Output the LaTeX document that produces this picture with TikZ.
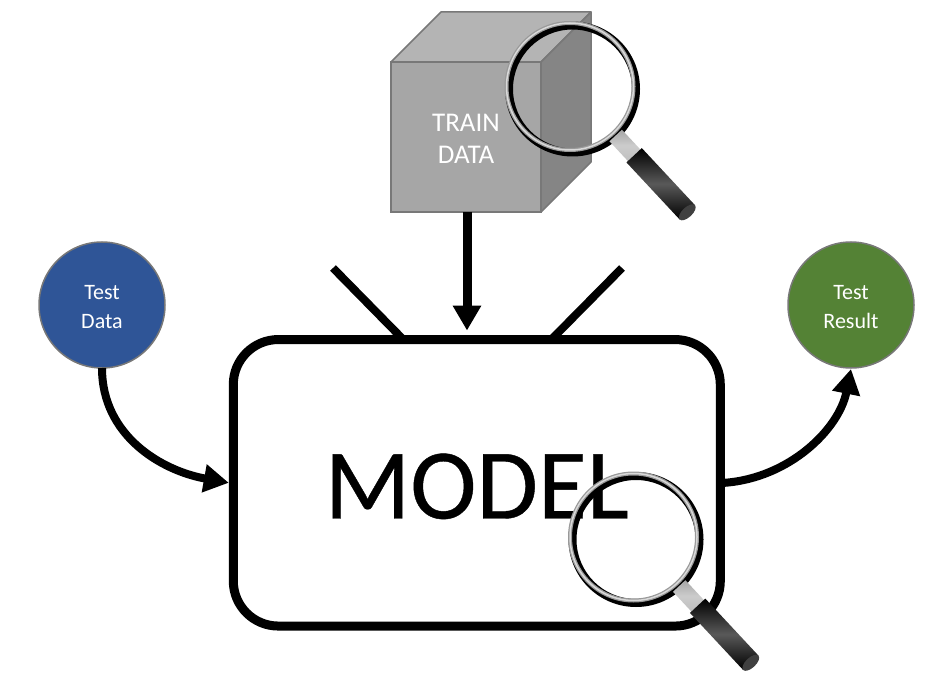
\documentclass[tikz,border=0pt]{standalone}
\usepackage{fontspec}
\setmainfont{Carlito}
\usetikzlibrary{positioning, arrows.meta, calc}

\definecolor{frontgray}{HTML}{A6A6A6}
\definecolor{topgray}{HTML}{B4B4B4}
\definecolor{sidegray}{HTML}{858585}
\definecolor{edgegray}{HTML}{787878}
\definecolor{testblue}{HTML}{2F5597}
\definecolor{testgreen}{HTML}{548235}

\tikzset{
  lens/.pic={
    \path[fill=black, even odd rule] (2.5,2.5) circle (67.5) (2.5,2.5) circle (59.5);
    \path[fill=black!40, even odd rule] (0,0) circle (65.5) (0,0) circle (61.5);
    \draw[white!85!black, line width=1.5pt] (0,0) circle (63.5);
    \begin{scope}[rotate=-47]
      \shade[top color=black!35, bottom color=black!25, middle color=white!80!black] (67,-8.5) rectangle (94,8.5);
      \shade[top color=black, bottom color=black, middle color=black!65] (94,-10.5) rectangle (172,10.5);
      \path[fill=black!75] (172,0) ellipse (5 and 10.5);
    \end{scope}
  }
}

\begin{document}
\begin{tikzpicture}[
  x=1pt, y=-1pt,
  facetop/.style={fill=topgray, draw=edgegray, line width=1.5pt, line join=round},
  faceside/.style={fill=sidegray, draw=edgegray, line width=1.5pt, line join=round},
  cubefront/.style={rectangle, fill=frontgray, draw=edgegray, line width=1.5pt, minimum size=150pt, inner sep=0pt, outer sep=0pt, align=center, text=white, font=\fontsize{27}{32}\selectfont},
  ball/.style={circle, draw=edgegray, line width=1.5pt, minimum size=126pt, inner sep=0pt, outer sep=0pt, align=center, text=white, font=\fontsize{22}{29}\selectfont},
  modelbox/.style={rectangle, rounded corners=45pt, draw=black, line width=9pt, minimum width=487pt, minimum height=286.5pt, inner sep=0pt, outer sep=4.5pt, font=\fontsize{100}{120}\selectfont\addfontfeature{FakeBold=0.4}},
  arrow/.style={-{Triangle[length=25pt, width=27pt]}, line width=8pt},
  antenna/.style={line width=8pt}
]
\useasboundingbox (0,0) rectangle (932,679);

\path[facetop] (391,62) -- (441,12) -- (591,12) -- (541,62) -- cycle;
\path[faceside] (541,62) -- (591,12) -- (591,162) -- (541,212) -- cycle;
\node[cubefront] (train) at (466,137) {\rule{0pt}{21pt}TRAIN\\DATA};

\node[ball, fill=testblue] (data) at (102,305) {\rule{0pt}{18pt}Test\\Data};
\node[ball, fill=testgreen] (result) at (851,305) {\rule{0pt}{18pt}Test\\Result};
\node[modelbox] (model) at (476.8,482.8) {\rule{0pt}{72pt}MODEL};

\coordinate (antleft) at (333,268);
\coordinate (antright) at (622,268);

\draw[antenna] (antleft) -- ($(model.north)+(-74,4)$);
\draw[antenna] (antright) -- ($(model.north)+(75,4)$);
\draw[arrow, line width=9pt, shorten >=4.5pt] ([xshift=1pt]train.south) -- ([xshift=1pt]train.south |- model.north);
\draw[arrow] (data.south) .. controls +(0,68) and +(-67,-12) .. (model.west);
\draw[arrow] (model.east) .. controls +(65,-5) and +(-12,60) .. ([yshift=-1pt]result.south);

\pic at (570,86.5) {lens};
\pic at (633.5,537) {lens};

\end{tikzpicture}
\end{document}
